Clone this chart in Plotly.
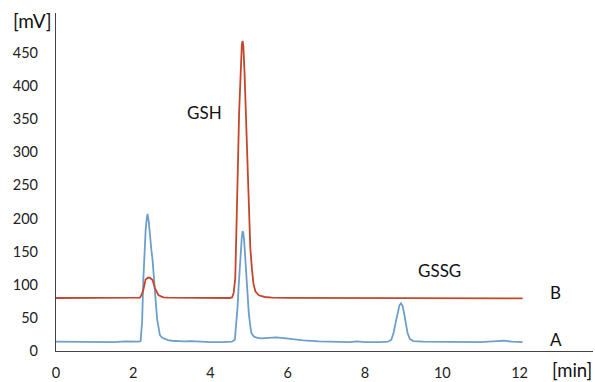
import plotly.graph_objects as go

# Trace A (blue): time [min], signal [mV]
a_time = [0.0, 0.5, 1.0, 1.5, 1.8, 2.0, 2.15, 2.19, 2.23, 2.26, 2.29, 2.32, 2.35, 2.37, 2.40,
          2.43, 2.47, 2.50, 2.53, 2.56, 2.59, 2.62, 2.66, 2.69, 2.75, 2.82, 2.9, 3.0, 3.3, 3.5,
          3.7, 4.0, 4.3, 4.55, 4.63, 4.67, 4.70, 4.73, 4.76, 4.79, 4.81, 4.83, 4.85, 4.87, 4.90,
          4.93, 4.96, 4.99, 5.03, 5.06, 5.12, 5.19, 5.3, 5.5, 5.7, 5.9, 6.1, 6.4, 6.8, 7.2, 7.6,
          7.8, 8.0, 8.4, 8.6, 8.68, 8.74, 8.80, 8.85, 8.89, 8.93, 8.97, 9.01, 9.05, 9.10, 9.16,
          9.25, 9.5, 10.0, 10.5, 11.0, 11.4, 11.6, 11.8, 12.08]
a_mv = [14, 13.5, 13, 13.5, 14.5, 14, 14, 15, 45, 107, 150, 182, 200, 207, 196,
        172, 152, 137, 118, 92, 68, 47, 32, 24, 20, 18, 16.5, 15.5, 14.5, 15,
        14, 13.5, 13.5, 14, 17, 40, 67, 100, 132, 160, 172, 181, 178, 167, 137,
        107, 80, 57, 37, 27, 22, 20, 19, 20, 20.5, 19.5, 18, 16, 14.5, 13.5, 13.5,
        14.5, 13.5, 13.5, 14, 17, 28, 45, 60, 69, 72, 68, 57, 42, 27, 18,
        15, 14, 13.5, 13.5, 13.5, 15, 15.5, 14, 13.5]

# Trace B (red): time [min], signal [mV]
b_time = [0.0, 1.0, 2.0, 2.17, 2.21, 2.26, 2.32, 2.38, 2.43, 2.50, 2.56, 2.60, 2.65, 2.72,
          2.78, 2.9, 3.5, 4.5, 4.56, 4.60, 4.64, 4.67, 4.70, 4.74, 4.78, 4.81, 4.83, 4.85,
          4.88, 4.91, 4.95, 4.99, 5.03, 5.07, 5.11, 5.16, 5.25, 5.4, 5.6, 6.0, 8.0, 10.0, 12.08]
b_mv = [80, 80, 80, 80.5, 84, 92, 108, 110.5, 110.5, 107, 95, 89, 84.5, 82.5,
        81, 80.5, 80, 80, 81, 88, 110, 170, 258, 360, 440, 462, 468, 460,
        420, 360, 280, 210, 155, 125, 102, 90, 84, 81.5, 80.5, 80.2, 80, 79.5, 79.5]

x_ticks = [0, 2, 4, 6, 8, 10, 12]
y_ticks = [0, 50, 100, 150, 200, 250, 300, 350, 400, 450]

FONT = "Lato, 'Open Sans', sans-serif"

fig = go.Figure()
fig.add_trace(go.Scatter(x=a_time, y=a_mv, mode="lines", name="A",
                         line=dict(color="#6d9fcc", width=1.8)))
fig.add_trace(go.Scatter(x=b_time, y=b_mv, mode="lines", name="B",
                         line=dict(color="#c4462c", width=1.8)))

# labels placed in paper coordinates (fraction of plot area)
labels = [
    ("GSH", 0.277, 0.706, 17, "center", "middle"),
    ("GSSG", 0.715, 0.237, 17, "center", "middle"),
    ("B", 0.931, 0.172, 17, "center", "middle"),
    ("A", 0.931, 0.033, 17, "center", "middle"),
    ("[min]", 1.0, -0.0917, 18.5, "right", "bottom"),
    ("[mV]", -0.082, 0.979, 19, "left", "middle"),
]
for text, x, y, size, xa, ya in labels:
    fig.add_annotation(x=x, y=y, xref="paper", yref="paper", text=text, showarrow=False,
                       xanchor=xa, yanchor=ya, borderpad=0,
                       font=dict(family=FONT, size=size, color="#111111"))

fig.update_layout(
    width=595, height=382,
    margin=dict(l=56, r=2, t=13, b=31),
    paper_bgcolor="white", plot_bgcolor="white",
    showlegend=False,
    font=dict(family=FONT, size=14, color="#222222"),
    xaxis=dict(range=[0, 13.9], tickvals=x_ticks, showgrid=False, zeroline=False,
               showline=True, linecolor="#444444", linewidth=1.2, ticks="",
               ticklabelstandoff=8, tickfont=dict(size=14.5)),
    yaxis=dict(range=[0, 510], tickvals=y_ticks, showgrid=False, zeroline=False,
               showline=True, linecolor="#444444", linewidth=1.2, ticks="",
               ticklabelstandoff=14, tickfont=dict(size=14.5)),
)

fig.write_html("out.html", config={"displayModeBar": False},
               post_script="document.body.style.margin='0';")
